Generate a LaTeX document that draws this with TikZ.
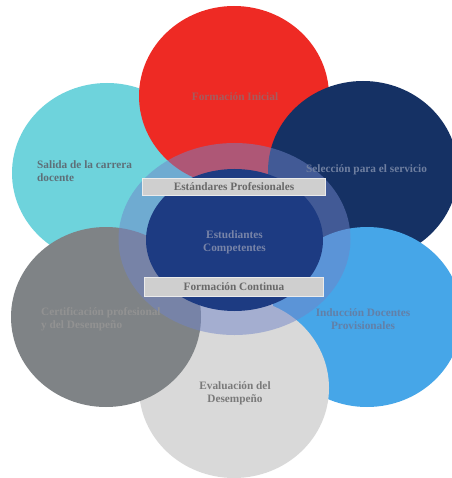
\documentclass[tikz,border=0pt]{standalone}
\usepackage{fontspec}
\setmainfont{Liberation Serif}
\usetikzlibrary{shapes.geometric}
\definecolor{cred}{RGB}{238,42,36}
\definecolor{ccyan}{RGB}{110,211,220}
\definecolor{cnavy}{RGB}{21,49,100}
\definecolor{clblue}{RGB}{70,166,232}
\definecolor{cgrey}{RGB}{127,131,134}
\definecolor{clgrey}{RGB}{217,217,217}
\definecolor{cinner}{RGB}{29,59,130}
\definecolor{cring}{RGB}{112,132,200}
\definecolor{cbox}{RGB}{207,207,207}
\definecolor{tred}{RGB}{165,92,94}
\definecolor{tcyan}{RGB}{94,111,120}
\definecolor{tnavy}{RGB}{111,127,160}
\definecolor{tlblue}{RGB}{98,128,168}
\definecolor{tgrey}{RGB}{146,146,146}
\definecolor{tlgrey}{RGB}{122,122,122}
\definecolor{tinner}{RGB}{120,132,168}
\definecolor{tbox}{RGB}{105,105,105}
\tikzset{
  petal/.style={ellipse, inner sep=0pt, minimum width=190pt, minimum height=180pt},
  lbl/.style={font=\fontsize{11.3}{13}\selectfont\bfseries, inner sep=0pt, align=center},
  lbll/.style={lbl, align=left, anchor=west},
  bandbox/.style={rectangle, fill=cbox, draw=white!92!black, line width=0.8pt, inner sep=0pt, minimum height=17pt}
}
\begin{document}
\begin{tikzpicture}[x=1pt,y=-1pt]
\useasboundingbox (0,0) rectangle (451,478);
% petals
\node[petal, fill=ccyan]  (pcyan)  at (107,173) {};
\node[petal, fill=cred]   (pred)   at (234,96)  {};
\node[petal, fill=cnavy]  (pnavy)  at (363,171) {};
\node[petal, fill=clblue] (plblue) at (367,317) {};
\node[petal, fill=clgrey] (plgrey) at (234,388) {};
\node[petal, fill=cgrey]  (pgrey)  at (106,317) {};
% ring and centre
\node[ellipse, inner sep=0pt, minimum width=232pt, minimum height=192pt, fill=cring, fill opacity=0.5] (ring) at (234.5,239) {};
\node[ellipse, inner sep=0pt, minimum width=177pt, minimum height=142pt, fill=cinner] (core) at (234.5,240) {};
% boxes
\node[bandbox, minimum width=183pt] (std) at (234,186.5) {};
\node[lbl, text=tbox] (stdt) at (std.center) {Estándares Profesionales};
\node[bandbox, minimum width=179pt, minimum height=19pt] (fc) at (234,287) {};
\node[lbl, text=tbox] (fct) at (fc.center) {Formación Continua};
% texts
\node[lbl, text=tred] (tfi) at (235,97) {Formación Inicial};
\node[lbll, text=tcyan] (tsal) at (37,171.5) {Salida de la carrera\\docente};
\node[lbl, text=tnavy] (tsel) at (366.5,170) {Selección para el servicio};
\node[lbl, text=tinner] (test) at (234.5,242.5) {Estudiantes\\Competentes};
\node[lbll, text=tgrey] (tcer) at (41,319) {Certificación profesional\\y del Desempeño};
\node[lbl, text=tlblue] (tind) at (363,319) {Inducción Docentes\\Provisionales};
\node[lbl, text=tlgrey] (teva) at (235,393.5) {Evaluación del\\Desempeño};
\end{tikzpicture}
\end{document}
